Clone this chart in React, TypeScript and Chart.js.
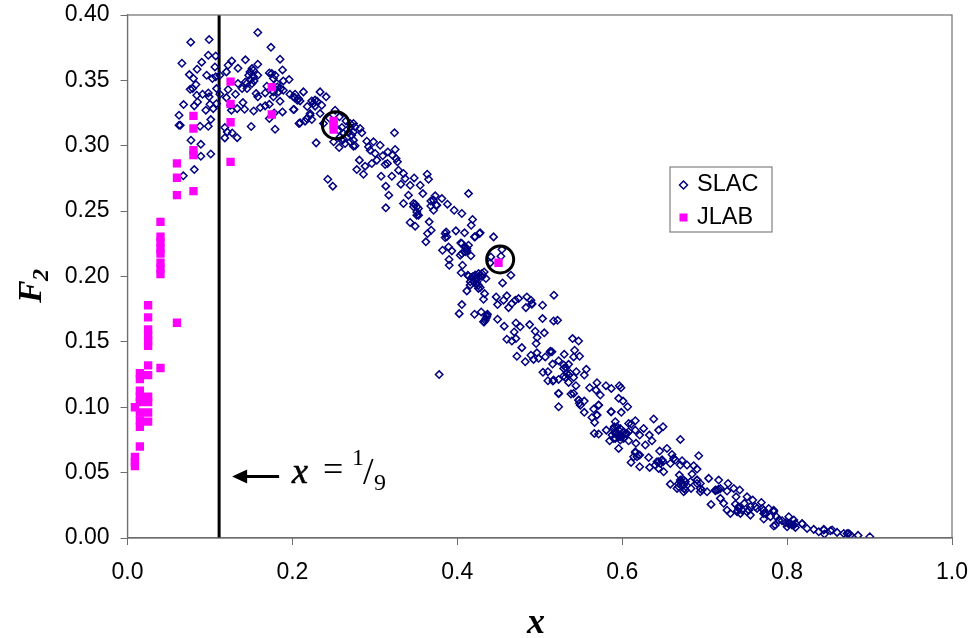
import React, { useEffect, useRef } from "react";
import { Chart, registerables } from "chart.js";

Chart.register(...registerables);

type P = [number, number];

const xTickStep = 0.2;
const yTickStep = 0.05;
const oneNinth = 1 / 9;

const slacPeak: P[] = [
  [.158,.3866],[.0767,.3792],[.099,.3812],[.174,.3753],[.098,.3692],[.107,.3687],[.185,.3662],[.066,.3631],[.090,.3639],[.143,.3657],
  [.1265,.3649],[.158,.3623],[.122,.3616],[.106,.3603],[.0844,.3585],[.134,.3593],[.188,.358],[.075,.3544],[.080,.3514],[.096,.3539],
  [.112,.3539],[.120,.3565],[.151,.359],[.147,.3539],[.153,.3527],[.158,.3539],[.172,.3557],[.179,.3539],[.196,.3506],[.189,.3496],
  [.103,.3514],[.107,.3527],[.083,.3468],[.079,.3437],[.076,.3432],[.108,.3437],[.134,.3476],[.143,.3488],[.151,.3476],[.169,.3455],
  [.181,.3476],[.186,.3437],[.122,.3430],[.139,.3437],[.145,.3437],[.131,.3394],[.167,.3404],[.091,.3394],[.098,.3404],[.112,.3394],
  [.084,.3386],[.099,.3374],[.120,.3368],[.156,.3399],[.158,.3374],[.177,.3374],[.189,.3425],[.197,.3394],[.203,.3368],[.206,.3348],
  [.185,.3340],[.085,.3335],[.068,.3315],[.081,.3305],[.100,.3317],[.108,.3322],[.125,.3310],[.140,.3330],[.172,.3317],[.167,.3305],
  [.161,.3292],[.095,.3272],[.104,.3284],[.133,.3284],[.142,.3279],[.153,.3266],[.188,.3259],[.202,.3277],[.126,.3272],[.0625,.3233],
  [.178,.3251],[.101,.3200],[.172,.3208],[.208,.3170],[.064,.3157],[.0625,.3157],[.088,.3149],[.098,.3149],[.118,.3139],[.150,.3147],
  [.179,.3126],[.121,.3106],[.127,.3098],[.133,.3062],[.118,.3060],[.077,.3042],[.089,.3011],[.089,.2920],[.101,.2937],[.081,.2818],
  [.0677,.277],[.1487,.3565],[.1527,.3578],[.1487,.3506],[.1535,.3496],[.1750,.3552],[.1770,.3514],[.1818,.3450],[.1770,.3412],[.1831,.3412],
  [.1447,.3476],
];

const slacShoulder: P[] = [
  [.2033,.3394],[.2134,.3412],[.2093,.3343],[.2012,.3277],[.2235,.3343],[.2275,.3349],[.2336,.3412],[.2409,.3374],[.2356,.3310],[.2275,.3303],
  [.2215,.3247],[.2174,.3208],[.2235,.3201],[.2093,.3175],[.2154,.3188],[.2518,.3272],[.2571,.3221],[.2336,.3246],[.2377,.3170],[.2288,.3022],
  [.2429,.2744],[.2490,.2691],[.2567,.2986],[.2639,.3017],[.2700,.3030],[.2741,.3170],[.2821,.3132],[.2842,.3099],[.2741,.3106],[.2720,.3081],
  [.2741,.3043],[.2741,.2997],[.3238,.3099],[.2902,.3035],[.2983,.3030],[.3064,.3004],[.2923,.2992],[.2943,.2966],[.3004,.2941],[.3096,.2923],
  [.3157,.2953],[.3246,.2971],[.3214,.2928],[.2813,.2890],[.2781,.2818],[.2862,.2782],[.2882,.2844],[.2963,.2864],[.3024,.2890],[.3125,.2856],
  [.3153,.2864],[.3274,.2877],[.3258,.2902],[.3287,.2813],[.3347,.2788],[.3206,.2767],[.3076,.2767],[.3367,.2749],[.3477,.2754],[.3315,.2706],
  [.3428,.2698],[.3133,.2691],[.3169,.2622],[.3133,.2525],[.3408,.2622],[.3347,.2558],[.3469,.2558],[.3529,.2520],[.3509,.2469],[.3428,.2413],
  [.3489,.2385],[.2600,.3140],[.2650,.3190],[.2680,.3100],[.2620,.3050],[.2500,.3030],[.2450,.3210],[.2300,.3340],[.2180,.3300],[.2560,.3120],
  [.2700,.3170],[.2760,.3000],[.2012,.3374],[.2073,.3361],[.2255,.3323],[.2215,.3234],[.2700,.3144],[.2761,.3144],[.2579,.3068],[.2619,.3094],
  [.2599,.3043],[.3469,.2533],[.3509,.2494],
];

const slacMiddle: P[] = [
  [.3550,.2698],[.3635,.2782],[.3651,.2744],[.3582,.2634],[.4136,.2634],[.3732,.2617],[.3813,.2596],[.3679,.2578],[.3881,.2553],[.3962,.2507],
  [.4055,.2482],[.3752,.2545],[.3712,.2507],[.3509,.2533],[.3489,.2553],[.3530,.2469],[.3659,.2418],[.4185,.2436],[.4169,.2392],[.3683,.2354],
  [.3639,.2329],[.3619,.2265],[.3983,.2349],[.4088,.2334],[.4270,.2329],[.4209,.2303],[.4440,.2303],[.3865,.2341],[.3853,.2298],[.4043,.2257],
  [.4136,.2239],[.4096,.2221],[.3821,.2201],[.3894,.2226],[.3934,.2196],[.4035,.2163],[.4116,.2196],[.4165,.2158],[.3902,.2086],[.4063,.2086],
  [.4047,.2028],[.4128,.2010],[.4258,.2022],[.4326,.2035],[.4347,.1984],[.4217,.1984],[.4157,.1959],[.4230,.1938],[.4278,.1915],[.4116,.1890],
  [.4331,.1869],[.4318,.1826],[.4541,.2206],[.4529,.2155],[.4407,.2150],[.4399,.2104],[.4650,.2010],[.4549,.1951],[.4472,.1844],[.4601,.1852],
  [.4561,.1819],[.4488,.1785],[.4622,.1762],[.4743,.1831],[.4703,.1819],[.4662,.1793],[.4844,.1844],[.4893,.1819],[.4905,.1788],[.5034,.1780],
  [.4832,.1762],[.5172,.1857],[.4055,.1785],[.4023,.1716],[.4209,.1711],[.4290,.1729],[.4359,.1704],[.4347,.1678],[.4326,.1653],[.4488,.1673],
  [.4569,.1620],[.4711,.1645],[.4763,.1615],[.4877,.1632],[.5034,.1678],[.5168,.1660],[.5216,.1665],[.4945,.1581],[.5055,.1569],[.4690,.1576],
  [.4601,.1520],[.4662,.1507],[.4711,.1525],[.4968,.1533],[.4956,.1487],[.4783,.1456],[.5398,.1525],[.5471,.1507],[.4723,.1390],[.4893,.1398],
  [.4966,.1416],[.5127,.1423],[.5297,.1405],[.5423,.1436],[.5483,.1390],[.5411,.1385],[.5067,.1385],[.3780,.1250],[.4260,.2000],[.4190,.2000],
  [.4240,.1960],[.4300,.2000],[.3900,.2130],[.4197,.1960],[.4156,.1934],[.4237,.1985],[.4257,.1934],[.4176,.1993],[.4136,.2003],[.4298,.2023],
  [.4217,.2011],[.4257,.1909],[.4358,.1692],[.4338,.1666],[.4318,.1654],[.4366,.1712],[.3711,.2585],[.3744,.2546],[.3679,.2539],[.3853,.2329],
  [.3873,.2304],[.4055,.2253],[.4116,.2215],[.4055,.2176],[.4095,.2189],[.4217,.2304],[.4277,.2335],[.4905,.1794],
];

const slacFalling: P[] = [
  [.4824,.1348],[.4925,.1366],[.4986,.1374],[.5229,.1356],[.5156,.1330],[.5350,.1328],[.5290,.1323],[.5318,.1302],[.5039,.1267],[.5099,.1272],
  [.5443,.1272],[.5565,.1290],[.5540,.1246],[.5099,.1203],[.5160,.1200],[.5229,.1213],[.5290,.1239],[.5350,.1246],[.5411,.1228],[.5350,.1190],
  [.5439,.1165],[.5694,.1188],[.5605,.1149],[.5682,.1131],[.5803,.1165],[.5868,.1144],[.5965,.1165],[.5985,.1149],[.5734,.1093],[.5957,.1068],
  [.6010,.1047],[.6066,.1004],[.5540,.1047],[.5472,.1055],[.5379,.1101],[.5411,.1106],[.5229,.1106],[.5229,.1004],[.5480,.1030],[.5714,.1017],
  [.5654,.0986],[.5540,.0961],[.5864,.0966],[.5989,.0961],[.5694,.0940],[.5633,.0922],[.5666,.0884],[.6382,.0910],[.6159,.0897],[.6110,.0871],
  [.5916,.0889],[.6495,.0851],[.6442,.0825],[.6260,.0838],[.5807,.0825],[.5662,.0800],[.5714,.0795],[.5904,.0851],[.5977,.0838],[.6159,.0825],
  [.6078,.0813],[.5916,.0813],[.6212,.0787],[.6329,.0787],[.6361,.0744],[.6705,.0754],[.5848,.0744],[.5957,.0775],[.5957,.0685],[.6078,.0744],
  [.6167,.0724],[.6280,.0711],[.6018,.0762],[.5896,.0838],[.5937,.0787],[.5997,.0775],[.6038,.0800],[.5916,.0762],[.5876,.0787],[.5977,.0749],
  [.5128,.1429],[.5148,.1424],[.5290,.1297],[.5330,.1258],[.5370,.1258],[.5310,.1228],[.5168,.1208],[.5229,.1106],[.5472,.1054],[.5492,.1016],
  [.5714,.1016],[.5694,.0940],[.5868,.0965],[.5957,.0825],[.5916,.0800],[.5977,.0774],[.6018,.0812],[.5937,.0850],[.5897,.0761],[.6078,.0876],
  [.6058,.0800],[.6159,.0659],[.6200,.0634],
];

const slacTail: P[] = [
  [.6543,.0685],[.6454,.0665],[.6604,.0639],[.6159,.0652],[.6139,.0621],[.6212,.0634],[.6321,.0616],[.6107,.0578],[.6212,.0545],[.6333,.0540],
  [.6422,.0583],[.6483,.0596],[.6503,.0507],[.6442,.0532],[.6928,.0629],[.6645,.0596],[.6726,.0591],[.6786,.0558],[.6867,.0553],[.6908,.0527],
  [.6705,.0558],[.6693,.0481],[.6847,.0489],[.7049,.0456],[.7170,.0443],[.6908,.0443],[.6948,.0417],[.6584,.0412],[.6665,.0379],[.6705,.0443],
  [.6726,.0417],[.6766,.0430],[.6746,.0354],[.6835,.0379],[.6948,.0354],[.7029,.0354],[.7151,.0367],[.7284,.0417],[.7353,.0379],[.7425,.0367],
  [.7272,.0359],[.7381,.0315],[.7514,.0315],[.7583,.0290],[.7688,.0272],[.7482,.0265],[.7373,.0259],[.7078,.0257],[.7191,.0303],[.7231,.0265],
  [.7272,.0213],[.7312,.0188],[.7401,.0208],[.7454,.0213],[.7555,.0175],[.7535,.0213],[.7636,.0226],[.7717,.0213],[.7777,.0226],[.7838,.0213],
  [.7870,.0163],[.7717,.0145],[.7899,.0137],[.7838,.0091],[.8020,.0163],[.8081,.0137],[.8000,.0086],[.8101,.0081],[.8182,.0107],[.8242,.0073],
  [.8323,.0066],[.8384,.0048],[.8445,.0066],[.8525,.0055],[.8453,.0030],[.8606,.0043],[.8687,.0035],[.8748,.0035],[.8768,.0023],[.8861,.0020],
  [.9003,.0010],[.7979,.0117],[.8040,.0111],[.7798,.0163],[.7737,.0188],[.7939,.0132],[.6584,.0570],[.6624,.0609],[.6179,.0621],[.6463,.0570],
  [.6495,.0583],[.6746,.0443],[.6685,.0417],[.6754,.0379],[.6948,.0379],[.6908,.0417],[.7191,.0379],[.7130,.0361],[.7413,.0226],[.7393,.0201],
  [.7434,.0188],[.7514,.0201],[.8060,.0099],[.8020,.0107],[.8101,.0111],[.6442,.0583],[.6483,.0596],[.6402,.0558],[.6705,.0430],[.6746,.0405],
  [.6685,.0392],[.6766,.0367],[.6827,.0430],[.6908,.0443],[.6968,.0367],[.7130,.0367],[.7170,.0372],[.7413,.0239],[.7555,.0239],[.7615,.0239],
  [.7696,.0226],[.7716,.0188],[.7838,.0201],[.7858,.0099],[.8020,.0111],[.8081,.0099],[.8182,.0111],[.8445,.0061],[.8546,.0061],[.8728,.0035],
];

const jlabX = [
  .009,.009,.009,.009,
  .015,.015,.015,.015,.015,.015,.015,.015,.015,
  .025,.025,.025,.025,.025,.025,.025,.025,.025,.025,.025,.025,
  .04,.04,.04,.04,.04,.04,.04,.04,.04,
  .06,.06,.06,.06,
  .08,.08,.08,.08,.08,
  .125,.125,.125,.125,
  .175,.175,
  .25,.25,.25,
  .45,
];
const jlabY = [
  .062,.058,.055,.100,
  .070,.085,.090,.096,.104,.108,.1126,.1215,.126,
  .089,.096,.104,.108,.1246,.132,.147,.151,.155,.1595,.1687,.178,
  .130,.2018,.206,.2105,.2176,.2214,.2265,.2304,.2418,
  .1646,.2622,.2755,.2865,
  .2653,.2928,.2966,.3132,.3229,
  .2877,.318,.332,.349,
  .3239,.3448,
  .319,.3158,.3124,
  .2105,
];

const circledPoints: P[] = [[.2527,.3157],[.452,.2130]];
const separator: P[] = [[oneNinth,0],[oneNinth,.4]];

const navy = "#000080";
const magenta = "#FF00FF";
const axisGray = "#6e6e6e";
const sans = "'Liberation Sans'";
const serif = "'Liberation Serif'";

const toXY = (pts: P[]) => pts.map(([x, y]) => ({ x, y }));

const overlay = {
  id: "overlay",
  afterDraw(chart: any) {
    const { ctx, chartArea: a, scales } = chart;
    const px = (v: number) => scales.x.getPixelForValue(v);
    const py = (v: number) => scales.y.getPixelForValue(v);
    ctx.save();
    // plot frame
    ctx.strokeStyle = axisGray;
    ctx.lineWidth = 1.2;
    ctx.strokeRect(a.left, a.top, a.right - a.left, a.bottom - a.top);

    // y title
    ctx.save();
    ctx.translate(41, 303);
    ctx.rotate(-Math.PI / 2);
    ctx.fillStyle = "#000";
    ctx.textAlign = "left";
    ctx.textBaseline = "alphabetic";
    ctx.font = `italic bold 34px ${serif}`;
    ctx.fillText("F", 0, 0);
    ctx.font = `italic bold 24px ${serif}`;
    ctx.fillText("2", 22, 7);
    ctx.restore();

    // x title
    ctx.fillStyle = "#000";
    ctx.textAlign = "left";
    ctx.textBaseline = "alphabetic";
    ctx.font = `italic bold 36px ${serif}`;
    ctx.fillText("x", 527, 633);

    // x = 1/9 note
    const ax = px(oneNinth) + 13;
    const ay = py(0.047);
    ctx.strokeStyle = "#000";
    ctx.fillStyle = "#000";
    ctx.lineWidth = 3;
    ctx.beginPath();
    ctx.moveTo(ax + 10, ay);
    ctx.lineTo(ax + 47, ay);
    ctx.stroke();
    ctx.beginPath();
    ctx.moveTo(ax, ay);
    ctx.lineTo(ax + 15, ay - 7);
    ctx.lineTo(ax + 15, ay + 7);
    ctx.closePath();
    ctx.fill();
    ctx.font = `italic 36px ${serif}`;
    ctx.lineWidth = 0.6;
    ctx.fillText("x", 292, 483);
    ctx.strokeText("x", 292, 483);
    ctx.font = `36px ${serif}`;
    ctx.fillText("=", 323, 481);
    ctx.font = `24px ${serif}`;
    ctx.fillText("1", 352, 465);
    ctx.font = `38px ${serif}`;
    ctx.fillText("/", 363, 484);
    ctx.font = `24px ${serif}`;
    ctx.fillText("9", 374, 490);

    // legend
    const lx = 670, ly = 167, lw = 102, lh = 65;
    ctx.fillStyle = "#fff";
    ctx.fillRect(lx, ly, lw, lh);
    ctx.strokeStyle = "#808080";
    ctx.lineWidth = 1.2;
    ctx.strokeRect(lx, ly, lw, lh);
    ctx.fillStyle = "#000";
    ctx.textBaseline = "middle";
    ctx.font = `23.5px ${sans}`;
    ctx.fillText("SLAC", 697, 185);
    ctx.fillText("JLAB", 697, 218);
    ctx.strokeStyle = navy;
    ctx.lineWidth = 1.5;
    ctx.beginPath();
    ctx.moveTo(683.5, 181);
    ctx.lineTo(687.5, 185);
    ctx.lineTo(683.5, 189);
    ctx.lineTo(679.5, 185);
    ctx.closePath();
    ctx.stroke();
    ctx.fillStyle = magenta;
    ctx.fillRect(679.5, 213.5, 8, 8);
    ctx.restore();
  },
};

export default function App() {
  const ref = useRef<HTMLCanvasElement>(null);
  useEffect(() => {
    const chart = new Chart(ref.current!, {
      type: "scatter",
      data: {
        datasets: [
          {
            label: "x = 1/9",
            data: toXY(separator),
            showLine: true,
            borderColor: "#000",
            borderWidth: 3,
            pointRadius: 0,
            order: 4,
          },
          {
            label: "SLAC",
            data: toXY([...slacPeak, ...slacShoulder, ...slacMiddle, ...slacFalling, ...slacTail]),
            pointStyle: "rectRot",
            pointRadius: 3.7,
            pointBorderWidth: 1.5,
            borderColor: navy,
            pointBorderColor: navy,
            backgroundColor: "transparent",
            pointBackgroundColor: "transparent",
            order: 3,
          },
          {
            label: "JLAB",
            data: jlabX.map((x, i) => ({ x, y: jlabY[i] })),
            pointStyle: "rect",
            pointRadius: 5.9,
            pointBorderWidth: 0,
            pointBackgroundColor: magenta,
            backgroundColor: magenta,
            order: 2,
          },
          {
            label: "Circled",
            data: toXY(circledPoints),
            pointStyle: "circle",
            pointRadius: 13.5,
            pointBorderWidth: 3,
            pointBorderColor: "#000",
            pointBackgroundColor: "transparent",
            order: 1,
          },
        ],
      },
      options: {
        responsive: false,
        animation: false,
        layout: { autoPadding: false, padding: { top: 15, right: 20, left: 0, bottom: 0 } },
        plugins: { legend: { display: false }, tooltip: { enabled: false } },
        scales: {
          x: {
            type: "linear",
            min: 0,
            max: 1,
            afterFit: (s: any) => {
              s.height = 100;
              s.paddingLeft = 0;
              s.paddingRight = 0;
              s.paddingTop = 0;
              s.paddingBottom = 0;
            },
            border: { color: axisGray, width: 1.2 },
            grid: { drawOnChartArea: false, drawTicks: true, tickLength: 7, color: axisGray },
            ticks: {
              stepSize: xTickStep,
              padding: 14,
              color: "#000",
              maxRotation: 0,
              font: { family: sans, size: 23 },
              callback: (v: any) => Number(v).toFixed(1),
            },
          },
          y: {
            type: "linear",
            min: 0,
            max: 0.4,
            afterFit: (s: any) => {
              s.width = 127.5;
              s.paddingLeft = 0;
              s.paddingRight = 0;
              s.paddingTop = 0;
              s.paddingBottom = 0;
            },
            border: { color: axisGray, width: 1.2 },
            grid: { drawOnChartArea: false, drawTicks: true, tickLength: 7, color: axisGray },
            ticks: {
              stepSize: yTickStep,
              padding: 11,
              color: "#000",
              font: { family: sans, size: 23 },
              callback: (v: any) => Number(v).toFixed(2),
            },
          },
        },
      },
      plugins: [overlay],
    } as any);
    return () => chart.destroy();
  }, []);
  return (
    <div style={{ position: "fixed", left: 0, top: 0, width: 972, height: 638 }}>
      <canvas ref={ref} width={972} height={638} style={{ display: "block" }} />
    </div>
  );
}
